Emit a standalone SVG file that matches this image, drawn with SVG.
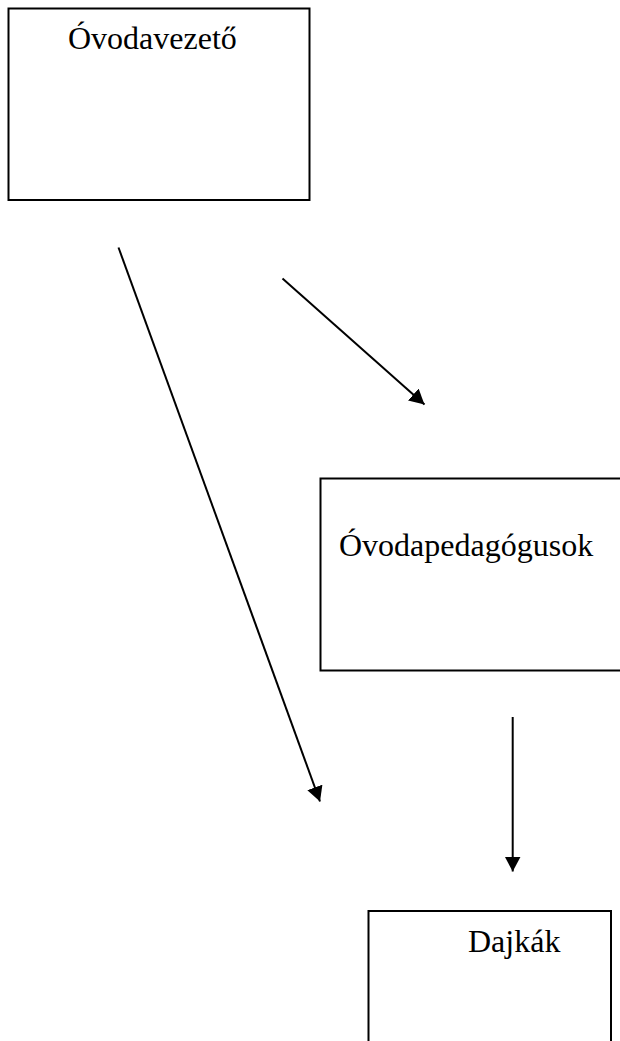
<svg xmlns="http://www.w3.org/2000/svg" width="620" height="1041" viewBox="0 0 620 1041">
<style>
.box{fill:#fff;stroke:#000;stroke-width:2}
.lbl{font-family:"Liberation Serif","Times New Roman",serif;font-size:32px;fill:#000}
.conn{stroke:#000;stroke-width:2;fill:none;marker-end:url(#ah)}
</style>
<defs>
<marker id="ah" markerUnits="userSpaceOnUse" markerWidth="16" markerHeight="16" refX="15" refY="8" orient="auto">
<path d="M0,0 L15,8 L0,16 Z" fill="#000"/>
</marker>
</defs>
<rect width="620" height="1041" fill="#fff"/>
<g id="ovodavezeto">
<rect class="box" x="8.5" y="8.5" width="301" height="191.5"/>
<text class="lbl" x="68" y="49">Óvodavezető</text>
</g>
<g id="ovodapedagogusok">
<rect class="box" x="320.5" y="478.5" width="310" height="192"/>
<text class="lbl" x="339" y="556">Óvodapedagógusok</text>
</g>
<g id="dajkak">
<rect class="box" x="368.5" y="911" width="242.5" height="150"/>
<text class="lbl" x="468" y="952">Dajkák</text>
</g>
<g id="connectors">
<line class="conn" x1="118.5" y1="247.5" x2="320" y2="801.5"/>
<line class="conn" x1="282.5" y1="278.5" x2="424.5" y2="404.5"/>
<line class="conn" x1="512.7" y1="717" x2="512.7" y2="871.5"/>
</g>
</svg>
